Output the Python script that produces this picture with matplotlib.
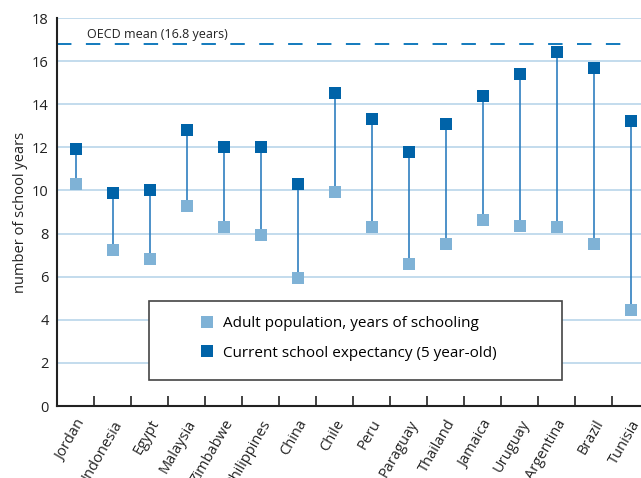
import numpy as np
import matplotlib
matplotlib.use("Agg")
import matplotlib.pyplot as plt
from matplotlib.lines import Line2D
from matplotlib.patches import Rectangle

plt.rcParams["font.family"] = ["Open Sans", "DejaVu Sans"]

countries = ["Jordan", "Indonesia", "Egypt", "Malaysia", "Zimbabwe", "Philippines",
             "China", "Chile", "Peru", "Paraguay", "Thailand", "Jamaica",
             "Uruguay", "Argentina", "Brazil", "Tunisia"]
adult = [10.3, 7.25, 6.8, 9.3, 8.3, 7.95, 5.95, 9.95, 8.3, 6.6, 7.5, 8.65,
         8.35, 8.3, 7.5, 4.45]
expectancy = [11.9, 9.9, 10.0, 12.8, 12.0, 12.0, 10.3, 14.5, 13.3, 11.8, 13.1,
              14.4, 15.4, 16.4, 15.7, 13.2]
oecd_mean = 16.8

dark = "#0063a8"
light = "#7fb2d6"
stem = "#2f7fc0"
grid = "#b9d5ea"

fig = plt.figure(figsize=(6.41, 4.78), dpi=100)
ax = fig.add_axes([57 / 641, 72 / 478, 592 / 641, 388 / 478])

x = np.arange(len(countries))
ax.vlines(x, adult, expectancy, color=stem, linewidth=1.2, zorder=2)
ax.plot(x, adult, "s", color=light, markersize=8.5, markeredgewidth=0, zorder=3)
ax.plot(x, expectancy, "s", color=dark, markersize=8.5, markeredgewidth=0, zorder=3)

ax.axhline(oecd_mean, xmax=0.965, color="#0070b8", linewidth=1.3,
           linestyle=(0, (8, 8)), zorder=2)
ax.text(0.3, 17.25, "OECD mean (16.8 years)", fontsize=9, color="#222222",
        va="center")

ax.set_xlim(-0.5, len(countries) - 0.5)
ax.set_ylim(0, 18)
ax.set_yticks(range(0, 19, 2))
ax.yaxis.grid(True, color=grid, linewidth=1.2, zorder=0)
ax.set_axisbelow(True)
ax.tick_params(axis="y", length=0, labelsize=10.5, pad=6, colors="#222222")

ax.set_xticks(x)
ax.set_xticklabels(countries, rotation=60, ha="right", rotation_mode="anchor",
                   fontsize=10.5, color="#222222")
ax.tick_params(axis="x", which="major", length=0, pad=8)
ax.set_xticks(np.arange(0.5, len(countries) - 0.5, 1), minor=True)
ax.tick_params(axis="x", which="minor", direction="in", length=7, width=1.2,
               color="#222222")

for s in ["top", "right"]:
    ax.spines[s].set_visible(False)
for s in ["left", "bottom"]:
    ax.spines[s].set_linewidth(1.5)
    ax.spines[s].set_color("#222222")

ax.set_ylabel("number of school years", fontsize=10.5, color="#222222", labelpad=3)

# legend frame drawn separately so it can be wider than the entries
box = Rectangle((92 / 592, 26 / 388), 413 / 592, 79 / 388, transform=ax.transAxes,
                facecolor="white", edgecolor="#444444", linewidth=1.2, zorder=4)
ax.add_patch(box)

handles = [
    Line2D([], [], marker="s", linestyle="none", color=light, markersize=8.5,
           markeredgewidth=0),
    Line2D([], [], marker="s", linestyle="none", color=dark, markersize=8.5,
           markeredgewidth=0),
]
leg = ax.legend(handles, ["Adult population, years of schooling",
                          "Current school expectancy (5 year-old)"],
                loc="upper left", bbox_to_anchor=(141 / 592, 90 / 388),
                bbox_transform=ax.transAxes, frameon=False, fontsize=11,
                borderpad=0, labelspacing=0.95, handletextpad=0.45,
                handlelength=1.2, borderaxespad=0)
leg.set_zorder(5)

fig.savefig("out.png", dpi=100)
